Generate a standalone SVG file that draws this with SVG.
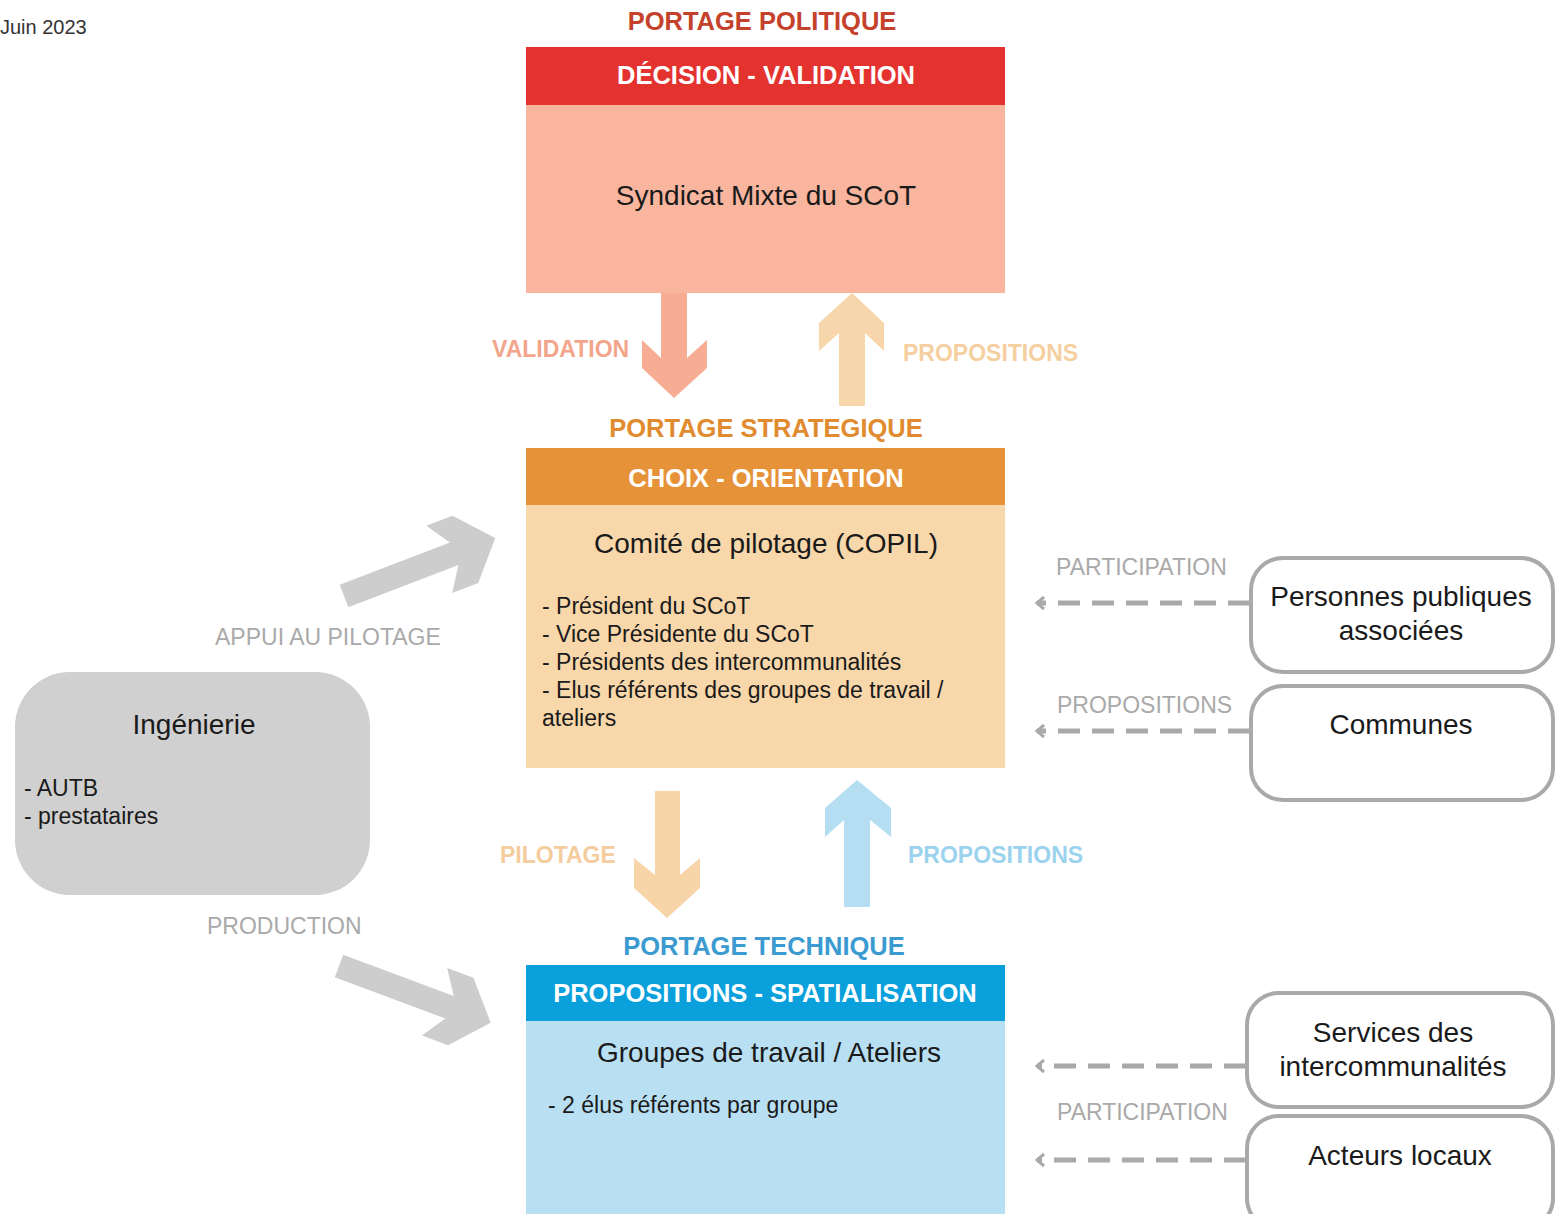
<svg xmlns="http://www.w3.org/2000/svg" width="1557" height="1214" viewBox="0 0 1557 1214">
<style>
text{font-family:"Liberation Sans",Arial,sans-serif}
.hd{font-size:25.5px;font-weight:bold;text-anchor:middle}
.wt{fill:#fff}
.big{font-size:28px;fill:#1a1a1a}
.mid{text-anchor:middle}
.li{font-size:23px;fill:#1a1a1a}
.lbl{font-size:23px;fill:#a9a9a9}
.albl{font-size:23px;font-weight:bold}
.side{fill:#fff;stroke:#a9a9a9;stroke-width:4}
.dash{stroke:#a9a9a9;stroke-width:5;fill:none;stroke-dasharray:22 12}
</style>
<defs>
<marker id="chev" markerUnits="userSpaceOnUse" markerWidth="16" markerHeight="16" refX="10" refY="8" orient="auto">
<path d="M3,2 L10,8 L3,14" fill="none" stroke="#a9a9a9" stroke-width="3"/>
</marker>
<polygon id="garrow" points="0,-12 118,-12 102,-36 130,-36 162,0 130,36 102,36 118,12 0,12"/>
</defs>

<text x="0" y="34" style="font-size:20px;fill:#333">Juin 2023</text>

<g id="politique">
<text x="762" y="30" class="hd" fill="#c4412b">PORTAGE POLITIQUE</text>
<rect x="526" y="47" width="479" height="58" fill="#e4332f"/>
<text x="766" y="84" class="hd wt">DÉCISION - VALIDATION</text>
<rect x="526" y="105" width="479" height="188" fill="#f9b59e"/>
<text x="766" y="205" class="big mid">Syndicat Mixte du SCoT</text>
</g>

<g id="strategique">
<text x="766" y="437" class="hd" fill="#e08b2f">PORTAGE STRATEGIQUE</text>
<rect x="526" y="448" width="479" height="57" fill="#e69239"/>
<text x="766" y="487" class="hd wt">CHOIX - ORIENTATION</text>
<rect x="526" y="505" width="479" height="263" fill="#f8d7aa"/>
<text x="766" y="553" class="big mid">Comité de pilotage (COPIL)</text>
<text x="542" y="614" class="li">- Président du SCoT</text>
<text x="542" y="642" class="li">- Vice Présidente du SCoT</text>
<text x="542" y="670" class="li">- Présidents des intercommunalités</text>
<text x="542" y="698" class="li">- Elus référents des groupes de travail /</text>
<text x="542" y="726" class="li">ateliers</text>
</g>

<g id="technique">
<text x="764" y="955" class="hd" fill="#3b9bd1">PORTAGE TECHNIQUE</text>
<rect x="526" y="965" width="479" height="56" fill="#0aa0dc"/>
<text x="765" y="1002" class="hd wt">PROPOSITIONS - SPATIALISATION</text>
<rect x="526" y="1021" width="479" height="193" fill="#b9dff2"/>
<text x="769" y="1062" class="big mid">Groupes de travail / Ateliers</text>
<text x="548" y="1113" class="li">- 2 élus référents par groupe</text>
</g>

<g id="ingenierie">
<rect x="15" y="672" width="355" height="223" rx="55" ry="55" fill="#d0d0d0"/>
<text x="194" y="734" class="big mid">Ingénierie</text>
<text x="24" y="796" class="li">- AUTB</text>
<text x="24" y="824" class="li">- prestataires</text>
</g>

<g id="ppa">
<rect x="1251" y="558" width="302" height="114" rx="32" ry="32" class="side"/>
<text x="1401" y="606" class="big mid">Personnes publiques</text>
<text x="1401" y="640" class="big mid">associées</text>
</g>
<g id="communes">
<rect x="1251" y="686" width="302" height="114" rx="32" ry="32" class="side"/>
<text x="1401" y="734" class="big mid">Communes</text>
</g>
<g id="services">
<rect x="1247" y="993" width="306" height="114" rx="32" ry="32" class="side"/>
<text x="1393" y="1042" class="big mid">Services des</text>
<text x="1393" y="1076" class="big mid">intercommunalités</text>
</g>
<g id="acteurs">
<rect x="1247" y="1116" width="306" height="114" rx="32" ry="32" class="side"/>
<text x="1400" y="1165" class="big mid">Acteurs locaux</text>
</g>

<g id="connectors">
<polygon points="661,293 687,293 687,358 707,340 707,368 674,398 642,368 642,340 661,358" fill="#f6ad93"/>
<text x="492" y="357" class="albl" fill="#f2a58b">VALIDATION</text>
<polygon points="852,293 884,323 884,351 865,333 865,406 839,406 839,333 819,351 819,323" fill="#f8d6ab"/>
<text x="903" y="361" class="albl" fill="#f5cf9f">PROPOSITIONS</text>

<polygon points="655,791 680,791 680,875 700,858 700,888 667,918 634,888 634,858 655,875" fill="#f8d5a9"/>
<text x="500" y="863" class="albl" fill="#f5cc9d">PILOTAGE</text>
<polygon points="857,780 891,808 891,837 870,820 870,907 844,907 844,820 825,837 825,808" fill="#b5def2"/>
<text x="908" y="863" class="albl" fill="#9bd3ef">PROPOSITIONS</text>

<use href="#garrow" transform="translate(344,596) rotate(-21)" fill="#cdcdcd"/>
<text x="215" y="645" class="lbl">APPUI AU PILOTAGE</text>
<use href="#garrow" transform="translate(339,966) rotate(20.5)" fill="#cdcdcd"/>
<text x="207" y="934" class="lbl">PRODUCTION</text>

<line x1="1250" y1="603" x2="1037" y2="603" class="dash" marker-end="url(#chev)"/>
<text x="1056" y="575" class="lbl">PARTICIPATION</text>
<line x1="1250" y1="731" x2="1037" y2="731" class="dash" marker-end="url(#chev)"/>
<text x="1057" y="713" class="lbl">PROPOSITIONS</text>
<line x1="1246" y1="1066" x2="1037" y2="1066" class="dash" marker-end="url(#chev)"/>
<line x1="1246" y1="1160" x2="1037" y2="1160" class="dash" marker-end="url(#chev)"/>
<text x="1057" y="1120" class="lbl">PARTICIPATION</text>
</g>
</svg>
